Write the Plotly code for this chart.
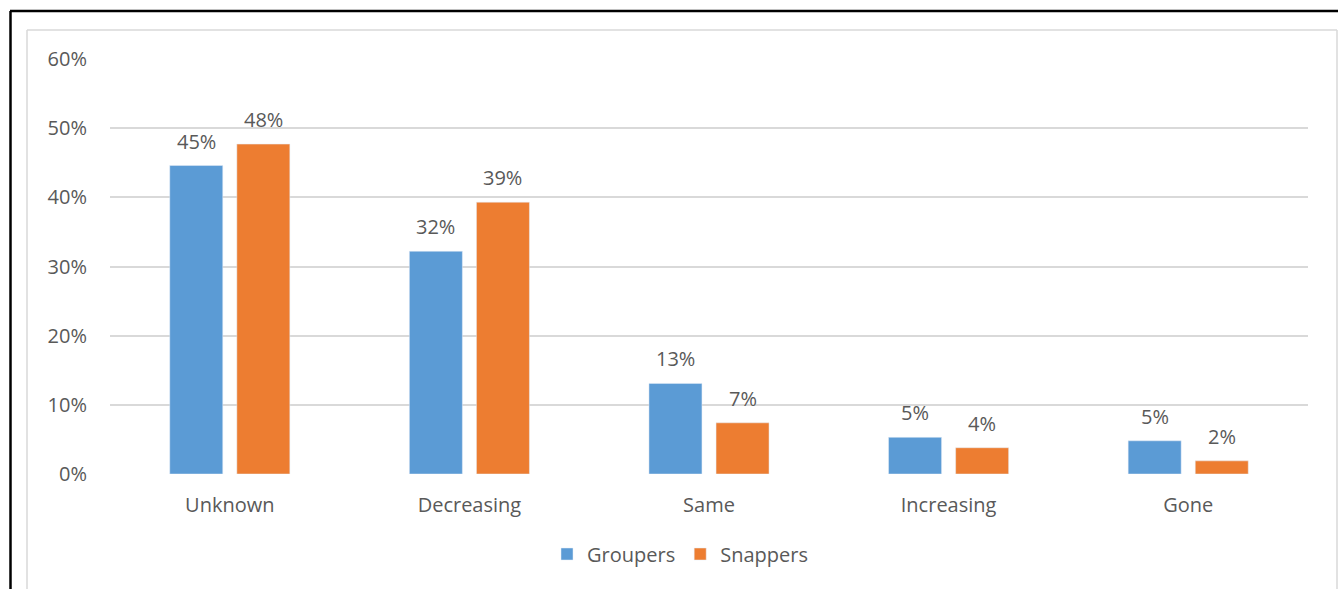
import plotly.graph_objects as go

# Survey responses: perceived trend in abundance
categories = ["Unknown", "Decreasing", "Same", "Increasing", "Gone"]
groupers = [0.446, 0.322, 0.131, 0.053, 0.048]
snappers = [0.477, 0.393, 0.074, 0.038, 0.019]
y_ticks = [0, 0.1, 0.2, 0.3, 0.4, 0.5, 0.6]
y_tick_labels = ["0%", "10%", "20%", "30%", "40%", "50%", "60%"]

W, H = 1338, 589
L, R, T, B = 110, 30, 59, 115
plot_w = W - L - R
plot_h = H - T - B

def px_x(px):
    return (px - L) / plot_w

def px_y(py):
    return (H - B - py) / plot_h

FONT = "'Open Sans', sans-serif"
TEXT = "#595959"
BLUE, ORANGE = "#5B9BD5", "#ED7D31"

BARGAP, GROUPGAP = 0.44, 0.21
slot_px = plot_w / len(categories) * (1 - BARGAP) / 2   # width of one bar slot

fig = go.Figure()
fig.add_trace(go.Bar(name="Groupers", x=categories, y=groupers, marker_color=BLUE))
fig.add_trace(go.Bar(name="Snappers", x=categories, y=snappers, marker_color=ORANGE))

# Value labels above each bar
for values, side in ((groupers, -1), (snappers, 1)):
    for cat, v in zip(categories, values):
        fig.add_annotation(
            x=cat, y=v, xref="x", yref="y",
            text=f"{v:.0%}", showarrow=False,
            xanchor="center", yanchor="bottom",
            xshift=side * slot_px / 2, yshift=9,
            font=dict(family=FONT, size=20, color=TEXT),
        )

# Frame: black outer edge and light grey inner border
frame = [
    dict(x0=px_x(10), x1=px_x(1338), y0=px_y(11), y1=px_y(11), color="black", width=2.5),
    dict(x0=px_x(10.5), x1=px_x(10.5), y0=px_y(11), y1=px_y(589), color="black", width=2.5),
    dict(x0=px_x(27), x1=px_x(1337), y0=px_y(30), y1=px_y(30), color="#D9D9D9", width=1.5),
    dict(x0=px_x(27), x1=px_x(27), y0=px_y(30), y1=px_y(589), color="#D9D9D9", width=1.5),
    dict(x0=px_x(1337), x1=px_x(1337), y0=px_y(30), y1=px_y(589), color="#D9D9D9", width=1.5),
]
for f in frame:
    fig.add_shape(type="line", xref="paper", yref="paper",
                  x0=f["x0"], x1=f["x1"], y0=f["y0"], y1=f["y1"],
                  line=dict(color=f["color"], width=f["width"]))

fig.update_layout(
    width=W, height=H,
    margin=dict(l=L, r=R, t=T, b=B, pad=0),
    paper_bgcolor="white", plot_bgcolor="white",
    barmode="group", bargap=BARGAP, bargroupgap=GROUPGAP,
    font=dict(family=FONT, size=20, color=TEXT),
    showlegend=True,
    legend=dict(orientation="h", x=px_x(680), xanchor="center",
                y=px_y(554), yanchor="middle",
                font=dict(size=20, color=TEXT), itemwidth=30,
                traceorder="normal"),
    xaxis=dict(showline=False, ticks="", tickfont=dict(size=20, color=TEXT),
               showgrid=False, zeroline=False, ticklabelstandoff=17),
    yaxis=dict(range=[0, 0.6], tickvals=y_ticks, ticktext=y_tick_labels,
               showgrid=True, gridcolor="#D9D9D9", gridwidth=1.5,
               zeroline=False, showline=False, ticks="", ticklabelstandoff=22,
               tickfont=dict(size=20, color=TEXT)),
)

fig.write_html("out.html")
